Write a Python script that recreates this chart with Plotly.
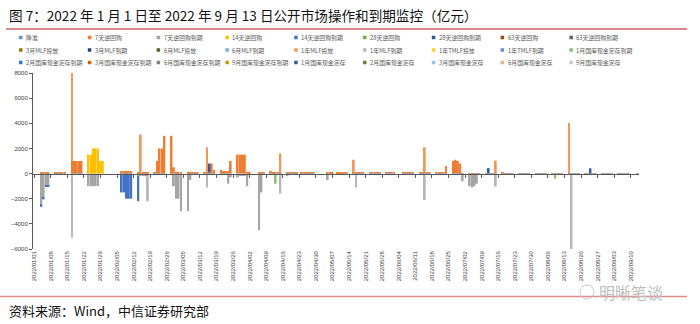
import plotly.graph_objects as go

# 公开市场操作与到期金额（亿元），按 "月-日" 记录；到期记为负值
reserve_cut = {}

rr7 = {
    "01-04": 100, "01-05": 100, "01-06": 100, "01-07": 100,
    "01-10": 100, "01-11": 100, "01-12": 100, "01-13": 100, "01-14": 100,
    "01-17": 1000, "01-18": 1000, "01-19": 1000, "01-20": 1000, "01-21": 1000,
    "02-07": 200, "02-08": 200, "02-09": 200, "02-10": 200, "02-11": 200,
    "02-14": 100, "02-15": 100, "02-16": 100, "02-17": 100, "02-18": 100,
    "02-21": 100, "02-22": 1000, "02-23": 2000, "02-24": 2000, "02-25": 3000,
    "02-28": 3000, "03-01": 500, "03-02": 100, "03-03": 100, "03-04": 100,
    "03-07": 100, "03-08": 100, "03-09": 100, "03-10": 100, "03-11": 100,
    "03-14": 100, "03-15": 100, "03-16": 100, "03-17": 800, "03-18": 300,
    "03-21": 300, "03-22": 200, "03-23": 200, "03-24": 200, "03-25": 1000,
    "03-28": 1500, "03-29": 1500, "03-30": 1500, "03-31": 1500,
    "04-01": 100, "04-02": 100, "04-06": 100, "04-07": 100, "04-08": 100,
    "04-11": 200, "04-12": 100, "04-13": 100, "04-14": 100, "04-15": 100,
    "04-18": 100, "04-19": 100, "04-20": 100, "04-21": 100, "04-22": 100,
    "04-24": 100, "04-25": 100, "04-26": 100, "04-27": 100, "04-28": 100, "04-29": 100,
    "05-05": 100, "05-06": 100, "05-07": 100,
    "05-09": 100, "05-10": 100, "05-11": 100, "05-12": 100, "05-13": 100,
    "05-16": 100, "05-17": 100, "05-18": 100, "05-19": 100, "05-20": 100,
    "05-23": 100, "05-24": 100, "05-25": 100, "05-26": 100, "05-27": 100,
    "05-30": 100, "05-31": 100, "06-01": 100, "06-02": 100,
    "06-06": 100, "06-07": 100, "06-08": 100, "06-09": 100, "06-10": 100,
    "06-13": 100, "06-14": 100, "06-15": 100, "06-16": 100, "06-17": 100,
    "06-20": 100, "06-21": 100, "06-22": 100, "06-23": 100, "06-24": 600,
    "06-27": 1000, "06-28": 1100, "06-29": 1000, "06-30": 800,
    "07-01": 30, "07-04": 30, "07-05": 30, "07-06": 30, "07-07": 30, "07-08": 30,
    "07-11": 30, "07-12": 30, "07-13": 30, "07-14": 30, "07-15": 30,
    "07-18": 100, "07-19": 30, "07-20": 30, "07-21": 30, "07-22": 30,
    "07-25": 30, "07-26": 30, "07-27": 30, "07-28": 30, "07-29": 30,
    "08-01": 20, "08-02": 20, "08-03": 20, "08-04": 20, "08-05": 20,
    "08-08": 20, "08-09": 20, "08-10": 20, "08-11": 20, "08-12": 20,
    "08-15": 20, "08-16": 20, "08-17": 20, "08-18": 20, "08-19": 20,
    "08-22": 20, "08-23": 20, "08-24": 20, "08-25": 20, "08-26": 20,
    "08-29": 20, "08-30": 20, "08-31": 20, "09-01": 20, "09-02": 20,
    "09-05": 20, "09-06": 20, "09-07": 20, "09-08": 20, "09-09": 20, "09-13": 20,
}

rr7_due = {
    "01-04": -2400, "01-05": -1900, "01-06": -950, "01-07": -950,
    "01-11": -100, "01-12": -100, "01-13": -100, "01-14": -100,
    "01-17": -100, "01-18": -100, "01-19": -100, "01-20": -100, "01-21": -100,
    "01-24": -1000, "01-25": -1000, "01-26": -1000, "01-27": -1000, "01-28": -1000,
    "02-14": -200, "02-15": -200, "02-16": -200, "02-17": -200, "02-18": -200,
    "02-21": -100, "02-22": -100, "02-23": -100, "02-24": -100, "02-25": -100,
    "02-28": -100, "03-01": -1000, "03-02": -2000, "03-03": -2000, "03-04": -3000,
    "03-07": -3000, "03-08": -500, "03-09": -100, "03-10": -100, "03-11": -100,
    "03-14": -100, "03-15": -100, "03-16": -100, "03-17": -100, "03-18": -100,
    "03-21": -100, "03-22": -100, "03-23": -100, "03-24": -800, "03-25": -300,
    "03-28": -300, "03-29": -200, "03-30": -200, "03-31": -200,
    "04-01": -1000, "04-06": -4500, "04-07": -1500, "04-08": -100,
    "04-11": -100, "04-13": -100, "04-14": -100, "04-15": -100,
    "04-18": -200, "04-19": -100, "04-20": -100, "04-21": -100, "04-22": -100,
    "04-25": -100, "04-26": -100, "04-27": -100, "04-28": -100, "04-29": -100,
    "05-05": -500, "05-06": -100, "05-12": -100, "05-13": -100,
    "05-16": -100, "05-17": -100, "05-18": -100, "05-19": -100, "05-20": -100,
    "05-23": -100, "05-24": -100, "05-25": -100, "05-26": -100, "05-27": -100,
    "05-30": -100, "05-31": -100, "06-01": -100, "06-02": -100,
    "06-06": -100, "06-07": -100, "06-08": -100, "06-09": -100, "06-10": -100,
    "06-13": -100, "06-14": -100, "06-15": -100, "06-16": -100, "06-17": -100,
    "06-20": -100, "06-21": -100, "06-22": -100, "06-23": -100, "06-24": -100,
    "06-27": -100, "06-28": -100, "06-29": -100, "06-30": -100,
    "07-01": -600, "07-04": -1000, "07-05": -1100, "07-06": -1000, "07-07": -800,
    "07-08": -30, "07-11": -30, "07-12": -30, "07-13": -30, "07-14": -30,
    "07-15": -30, "07-18": -30, "07-19": -30, "07-20": -30, "07-21": -30,
    "07-22": -30, "07-25": -100, "07-26": -30, "07-27": -30, "07-28": -30,
    "07-29": -30, "08-01": -30, "08-02": -30, "08-03": -30, "08-04": -30,
    "08-05": -30, "08-08": -20, "08-09": -20, "08-10": -20, "08-11": -20,
    "08-12": -20, "08-15": -20, "08-16": -20, "08-17": -20, "08-18": -20,
    "08-19": -20, "08-22": -20, "08-23": -20, "08-24": -20, "08-25": -20,
    "08-26": -20, "08-29": -20, "08-30": -20, "08-31": -20, "09-01": -20,
    "09-02": -20, "09-05": -20, "09-06": -20, "09-07": -20, "09-08": -20,
    "09-09": -20, "09-13": -20,
}

rr14 = {"01-24": 1500, "01-25": 1500, "01-26": 2000, "01-27": 2000,
        "01-28": 2000, "01-29": 1000, "01-30": 1000}
rr14_due = {"01-04": -250, "01-05": -150, "01-06": -100, "01-07": -100,
            "02-07": -1500, "02-08": -1500, "02-09": -2000, "02-10": -2000,
            "02-11": -2000, "02-14": -2000}
rr28 = {}
rr28_due = {}
rr63 = {}
rr63_due = {}
mlf3m = {}
mlf3m_due = {}
mlf6m = {}
mlf6m_due = {}
mlf1y = {"01-17": 7000, "02-15": 3000, "03-15": 2000, "04-15": 1500,
         "05-16": 1000, "06-15": 2000, "07-15": 1000, "08-15": 4000}
mlf1y_due = {"01-17": -5000, "02-18": -2000, "03-15": -1000, "04-15": -1500,
             "05-17": -1000, "06-15": -2000, "07-15": -1000, "08-16": -6000}
tmlf1y = {}
tmlf1y_due = {}
tcd1m_due = {"04-13": -700, "08-09": -400}
tcd2m_due = {}
tcd3m_due = {}
tcd6m_due = {}
tcd9m_due = {}
tcd1m = {"03-16": 700, "07-12": 400, "08-24": 400}
tcd2m = {}
tcd3m = {}
tcd6m = {}
tcd9m = {}

series = [
    ("降准", "#5B9BD5", reserve_cut),
    ("7天逆回购", "#ED7D31", rr7),
    ("7天逆回购到期", "#A5A5A5", rr7_due),
    ("14天逆回购", "#FFC000", rr14),
    ("14天逆回购到期", "#4472C4", rr14_due),
    ("28天逆回购", "#70AD47", rr28),
    ("28天逆回购到期", "#255E91", rr28_due),
    ("63天逆回购", "#9E480E", rr63),
    ("63天逆回购到期", "#636363", rr63_due),
    ("3月MLF投放", "#997300", mlf3m),
    ("3月MLF到期", "#264478", mlf3m_due),
    ("6月MLF投放", "#43682B", mlf6m),
    ("6月MLF到期", "#7CAFDD", mlf6m_due),
    ("1年MLF投放", "#F1975A", mlf1y),
    ("1年MLF到期", "#B7B7B7", mlf1y_due),
    ("1年TMLF投放", "#FFCD33", tmlf1y),
    ("1年TMLF到期", "#698ED0", tmlf1y_due),
    ("1月国库现金定存到期", "#8CC168", tcd1m_due),
    ("2月国库现金定存到期", "#327DC2", tcd2m_due),
    ("3月国库现金定存到期", "#D26012", tcd3m_due),
    ("6月国库现金定存到期", "#848484", tcd6m_due),
    ("9月国库现金定存到期", "#CC9A00", tcd9m_due),
    ("1月国库现金定存", "#335AA1", tcd1m),
    ("2月国库现金定存", "#5A8A39", tcd2m),
    ("3月国库现金定存", "#9DC3E6", tcd3m),
    ("6月国库现金定存", "#F4B183", tcd6m),
    ("9月国库现金定存", "#C9C9C9", tcd9m),
]

tick_dates = ["01-01", "01-08", "01-15", "01-22", "01-29", "02-05", "02-12",
              "02-19", "02-26", "03-05", "03-12", "03-19", "03-26", "04-02",
              "04-09", "04-16", "04-23", "04-30", "05-07", "05-14", "05-21",
              "05-28", "06-04", "06-11", "06-18", "06-25", "07-02", "07-09",
              "07-16", "07-23", "07-30", "08-06", "08-13", "08-20", "08-27",
              "09-03", "09-10"]
y_ticks = [-6000, -4000, -2000, 0, 2000, 4000, 6000, 8000]

TITLE = "图 7：2022 年 1 月 1 日至 2022 年 9 月 13 日公开市场操作和到期监控（亿元）"
SOURCE = "资料来源：Wind，中信证券研究部"

W, H = 700, 324
L, R, T, B = 33, 61, 73, 75
PW, PH = W - L - R, H - T - B
DAY_MS = 86400000
CJK = "Noto Sans CJK SC"
LATIN = "Liberation Sans, Arial"


def px_x(px):
    return (px - L) / PW


def px_y(py):
    return (H - B - py) / PH


fig = go.Figure()
for name, color, data in series:
    fig.add_trace(go.Bar(
        x=["2022-" + k for k in data.keys()],
        y=list(data.values()),
        name=name,
        marker=dict(color=color, line=dict(width=0)),
        width=0.8 * DAY_MS,
        showlegend=False,
    ))

# carrier for the bottom label axis
fig.add_trace(go.Scatter(x=["2022-01-01"], y=[0], xaxis="x2", mode="markers",
                         marker=dict(opacity=0), hoverinfo="skip",
                         showlegend=False))

x_range = ["2021-12-31 12:00", "2022-09-13 12:00"]
tickvals = ["2022-" + d for d in tick_dates]
zero_pos = -y_ticks[0] / (y_ticks[-1] - y_ticks[0])

fig.update_layout(
    width=W, height=H,
    margin=dict(l=L, r=R, t=T, b=B, pad=0),
    paper_bgcolor="white", plot_bgcolor="white",
    barmode="relative",
    showlegend=False,
    font=dict(family=LATIN, color="#404040"),
    xaxis=dict(
        type="date", range=x_range, anchor="free", position=zero_pos,
        tickvals=tickvals, showticklabels=False,
        ticks="outside", ticklen=3, tickcolor="#595959", tickwidth=1,
        showline=True, linecolor="#595959", linewidth=1,
        showgrid=False, zeroline=False,
    ),
    xaxis2=dict(
        type="date", overlaying="x", matches="x", anchor="y", side="bottom",
        tickvals=tickvals, tickformat="%Y/%m/%d", tickangle=-90,
        tickfont=dict(size=6, family=LATIN, color="#404040"),
        ticks="", ticklen=4, showline=False, showgrid=False, zeroline=False,
    ),
    yaxis=dict(
        range=[y_ticks[0], y_ticks[-1]], tickvals=y_ticks,
        tickfont=dict(size=6, family=LATIN, color="#404040"),
        ticks="outside", ticklen=3, tickcolor="#595959",
        showline=True, linecolor="#595959", linewidth=1,
        showgrid=False, zeroline=False,
    ),
)

annotations = []
shapes = []

# title and rule
annotations.append(dict(text=TITLE, x=px_x(7), y=px_y(15), xref="paper",
                        yref="paper", xanchor="left", yanchor="middle",
                        showarrow=False,
                        font=dict(family=CJK, size=13.6, color="#111111")))
shapes.append(dict(type="line", xref="paper", yref="paper",
                   x0=px_x(6), x1=px_x(687), y0=px_y(29), y1=px_y(29),
                   line=dict(color="#D9878A", width=2)))

# legend grid: 3 rows x 9 columns
col_x0, col_step = 19, 68.8
row_y = [37.5, 50, 62.5]
for i, (name, color, _) in enumerate(series):
    r, c = divmod(i, 9)
    mx = col_x0 + c * col_step
    cy = row_y[r]
    shapes.append(dict(type="rect", xref="paper", yref="paper",
                       x0=px_x(mx), x1=px_x(mx + 3.5),
                       y0=px_y(cy + 1.75), y1=px_y(cy - 1.75),
                       line=dict(width=0), fillcolor=color))
    annotations.append(dict(text=name, x=px_x(mx + 5), y=px_y(cy),
                            xref="paper", yref="paper", xanchor="left",
                            yanchor="middle", showarrow=False,
                            font=dict(family=CJK, size=5.9, color="#595959")))

# source line and text
shapes.append(dict(type="line", xref="paper", yref="paper",
                   x0=px_x(0), x1=px_x(687), y0=px_y(296.5), y1=px_y(296.5),
                   line=dict(color="#E08A8A", width=1.5)))
annotations.append(dict(text=SOURCE, x=px_x(7), y=px_y(310), xref="paper",
                        yref="paper", xanchor="left", yanchor="middle",
                        showarrow=False,
                        font=dict(family=CJK, size=13, color="#111111")))

# account mark
shapes.append(dict(type="circle", xref="paper", yref="paper",
                   x0=px_x(580), x1=px_x(594), y0=px_y(299), y1=px_y(285),
                   line=dict(color="#C8C8C8", width=1)))
annotations.append(dict(text="明晰笔谈", x=px_x(597), y=px_y(292), xref="paper",
                        yref="paper", xanchor="left", yanchor="middle",
                        showarrow=False,
                        font=dict(family=CJK, size=16, color="#BDBDBD")))

fig.update_layout(annotations=annotations, shapes=shapes)

fig.write_html("out.html")
